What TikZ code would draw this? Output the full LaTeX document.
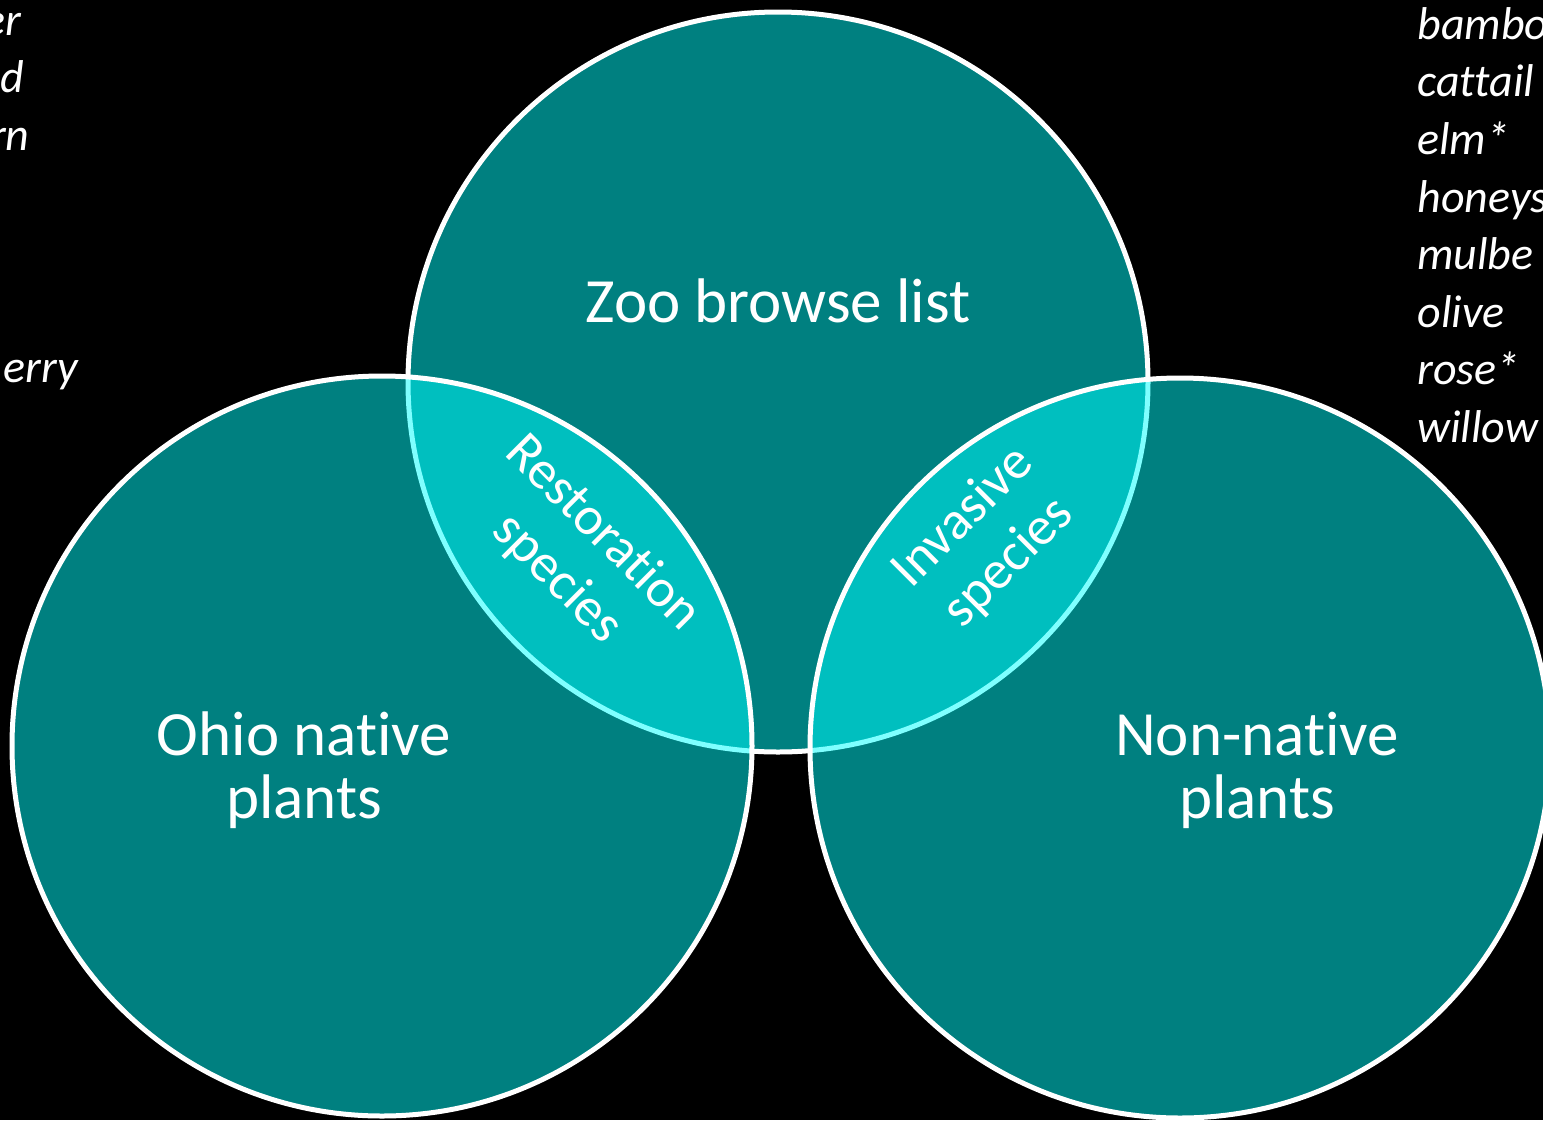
\documentclass[tikz,border=0pt]{standalone}
\usepackage{fontspec}
\setmainfont{Carlito}[Ligatures={NoCommon}]
\usetikzlibrary{positioning}
\definecolor{turkis}{RGB}{0,255,255}
\tikzset{
	%Define style for the circles
	sirkel/.style={
		circle,
		draw=white, line width=2.5pt,
		fill=turkis, fill opacity=0.5, draw opacity=1,
		minimum size=370pt,
		inner sep=0pt},
	%Define style for circle labels
	etikett/.style={
		text=white,
		align=center,
		font=\fontsize{31.5}{31.5}\selectfont},
	% Define style for overlap labels
	snitt/.style={
		text=white,
		align=center,
		font=\fontsize{27}{32}\selectfont},
	% Define style for plant lists
	liste/.style={
		text=white,
		align=left,
		font=\fontsize{23}{28.8}\selectfont\itshape}
}
\begin{document}
\begin{tikzpicture}[x=0.5pt, y=-0.5pt]
	
	\useasboundingbox (0,0) rectangle (1543,1120);
	\clip (0,0) rectangle (1543,1120);
	\fill[black] (0,0) rectangle (1543,1120);
	
	\node[sirkel] (zoo) at (778,382) {};
	\node[sirkel] (ohio) at (382,746) {};
	\node[sirkel] (ikke) at (1180,748) {};
	
	\node[etikett, anchor=base] (zootxt) at (778,322) {Zoo browse list};
	\node[etikett, anchor=base] (ohiotxt) at (304,818) {Ohio native\\plants};
	\node[etikett, anchor=base] (ikketxt) at (1257,818) {Non-native\\plants};
	
	\node[snitt, rotate=-45] (restaurering) at (580,556) {Restoration\\species};
	\node[snitt, rotate=45] (invasiv) at (986,540) {Invasive\\species};
	
	% plant list on the right, cut off by the page edge
	\node[liste, anchor=north west, inner sep=0pt] (hoyreliste) at (1417,7)
		{bambo\\cattail\\elm*\\honeys\\mulbe\\olive\\rose*\\willow};
	
	% ends of the plant list on the left
	\node[liste, anchor=base east, inner sep=0pt] (v1) at (22,35) {er};
	\node[liste, anchor=base east, inner sep=0pt] (v2) at (25,92) {d};
	\node[liste, anchor=base east, inner sep=0pt] (v3) at (30,150) {rn};
	\node[liste, anchor=base east, inner sep=0pt] (v7) at (78,382) {erry};
	
\end{tikzpicture}
\end{document}
